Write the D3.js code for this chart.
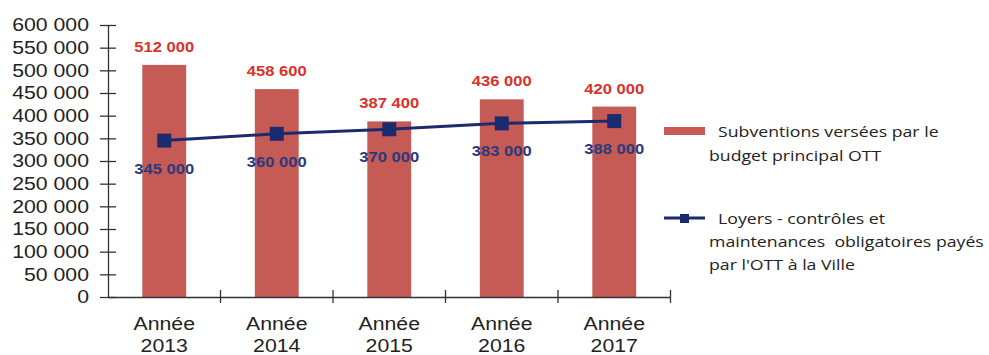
<!DOCTYPE html>
<html>
<head>
<meta charset="utf-8">
<script src="https://cdn.jsdelivr.net/npm/d3@7"></script>
<style>
  html, body { margin: 0; padding: 0; background: #fff; }
  svg { display: block; }
</style>
</head>
<body>
<svg id="chart" width="989" height="355"></svg>
<script>
// Budget figures per year
const years = ["2013", "2014", "2015", "2016", "2017"];
const subventions = [512000, 458600, 387400, 436000, 420000];
const loyers = [345000, 360000, 370000, 383000, 388000];
const yTicks = [0, 50000, 100000, 150000, 200000, 250000, 300000, 350000, 400000, 450000, 500000, 550000, 600000];
const legendBar = ["Subventions versées par le", "budget principal OTT"];
const legendLine = ["Loyers - contrôles et", "maintenances  obligatoires payés", "par l'OTT à la Ville"];

const svg = d3.select("#chart");
const SX = 1.18; // horizontal widening applied to text runs
const fmt = v => d3.format(",")(v).replace(/,/g, " ");

const plot = { left: 108, right: 670.5, top: 25, bottom: 297 };
const x = d3.scaleBand().domain(years).range([plot.left, plot.right]);
const y = d3.scaleLinear().domain([0, 600000]).range([plot.bottom, plot.top]);

const barColor = "#c65a55";
const navy = "#1c2b6e";

function widen(sel) {
  sel.each(function () {
    const w = this.getComputedTextLength();
    d3.select(this).attr("textLength", w * SX).attr("lengthAdjust", "spacingAndGlyphs");
  });
}

// Bars
svg.append("g").selectAll("rect").data(years).join("rect")
  .attr("x", d => x(d) + x.bandwidth() * 0.305)
  .attr("width", x.bandwidth() * 0.39)
  .attr("y", (d, i) => y(subventions[i]))
  .attr("height", (d, i) => y(0) - y(subventions[i]))
  .attr("fill", barColor);

// Axes
const axisColor = "#333";
const gy = svg.append("g").attr("transform", `translate(${plot.left},0)`)
  .call(d3.axisLeft(y).tickValues(yTicks).tickSize(0).tickFormat(fmt));
gy.select(".domain").attr("stroke", axisColor).attr("stroke-width", 1.3);
gy.selectAll(".tick line").attr("x1", -8).attr("x2", 8).attr("stroke", axisColor).attr("stroke-width", 1.3);
gy.selectAll(".tick text")
  .attr("x", -19)
  .attr("font-family", "Liberation Sans, Arial, sans-serif")
  .attr("font-size", 18).attr("fill", "#222")
  .call(widen);

const gx = svg.append("g").attr("transform", `translate(0,${plot.bottom})`)
  .call(d3.axisBottom(x).tickSize(0).tickFormat(""));
gx.select(".domain").attr("stroke", axisColor).attr("stroke-width", 1.5);
gx.selectAll(".tick").remove();
const bounds = years.map(d => x(d)).concat([x.range()[1]]).slice(1);
gx.selectAll("line.sep").data(bounds).join("line").attr("class", "sep")
  .attr("x1", d => d).attr("x2", d => d).attr("y1", -7).attr("y2", 6)
  .attr("stroke", axisColor).attr("stroke-width", 1.3);

// Category labels
const xl = svg.append("g").attr("font-family", "Liberation Sans, Arial, sans-serif")
  .attr("font-size", 18).attr("fill", "#222").attr("text-anchor", "middle");
years.forEach(yr => {
  const cx = x(yr) + x.bandwidth() / 2;
  xl.append("text").attr("x", cx).attr("y", 330).text("Année").call(widen);
  xl.append("text").attr("x", cx).attr("y", 352).text(yr).call(widen);
});

// Bar value labels
svg.append("g").selectAll("text").data(years).join("text")
  .attr("x", d => x(d) + x.bandwidth() / 2)
  .attr("y", (d, i) => y(subventions[i]) - 13)
  .attr("text-anchor", "middle")
  .attr("font-family", "Liberation Sans, Arial, sans-serif")
  .attr("font-size", 14).attr("font-weight", "bold").attr("fill", "#d8322b")
  .text((d, i) => fmt(subventions[i])).call(widen);

// Line series
const pts = years.map((d, i) => [x(d) + x.bandwidth() / 2, y(loyers[i])]);
svg.append("path").attr("d", d3.line()(pts))
  .attr("fill", "none").attr("stroke", navy).attr("stroke-width", 3);
svg.append("g").selectAll("rect").data(pts).join("rect")
  .attr("x", d => d[0] - 7).attr("y", d => d[1] - 7)
  .attr("width", 14).attr("height", 14).attr("fill", navy);

svg.append("g").selectAll("text").data(years).join("text")
  .attr("x", d => x(d) + x.bandwidth() / 2)
  .attr("y", (d, i) => y(loyers[i]) + 33)
  .attr("text-anchor", "middle")
  .attr("font-family", "Liberation Sans, Arial, sans-serif")
  .attr("font-size", 14).attr("font-weight", "bold").attr("fill", "#2a3a7c")
  .text((d, i) => fmt(loyers[i])).call(widen);

// Legend
const lg = svg.append("g").attr("font-family", "Open Sans, sans-serif")
  .attr("font-size", 15).attr("fill", "#222");
lg.append("rect").attr("x", 664).attr("y", 127).attr("width", 41).attr("height", 8).attr("fill", barColor);
lg.append("text").attr("x", 718).attr("y", 137).text(legendBar[0]).call(widen);
lg.append("text").attr("x", 709).attr("y", 161).text(legendBar[1]).call(widen);
lg.append("line").attr("x1", 664).attr("x2", 705).attr("y1", 218).attr("y2", 218)
  .attr("stroke", navy).attr("stroke-width", 3);
lg.append("rect").attr("x", 680).attr("y", 214).attr("width", 9).attr("height", 9).attr("fill", navy);
lg.append("text").attr("x", 718).attr("y", 224).text(legendLine[0]).call(widen);
lg.append("text").attr("x", 709).attr("y", 247).style("white-space", "pre").text(legendLine[1]).call(widen);
lg.append("text").attr("x", 709).attr("y", 270).text(legendLine[2]).call(widen);
</script>
</body>
</html>
